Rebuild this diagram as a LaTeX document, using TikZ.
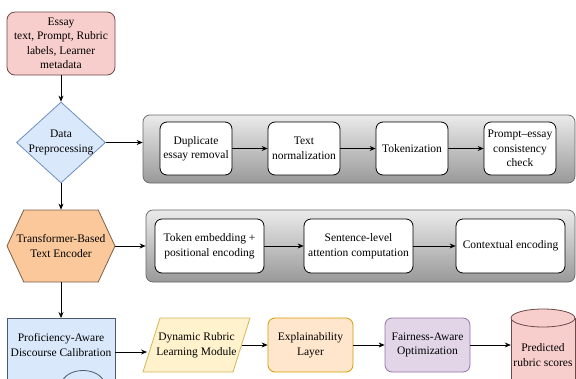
\documentclass[tikz,border=0pt]{standalone}
\usepackage{fontspec}
\setmainfont{Liberation Serif}
\usetikzlibrary{shapes.geometric,shapes.symbols,arrows.meta,calc}
\definecolor{pinkF}{HTML}{F8CECC}
\definecolor{pinkD}{HTML}{6B4A48}
\definecolor{blueF}{HTML}{DAE8FC}
\definecolor{blueD}{HTML}{6C8EBF}
\definecolor{blueD2}{HTML}{4A5A70}
\definecolor{orF}{HTML}{FBC89C}
\definecolor{orD}{HTML}{7A6048}
\definecolor{yelF}{HTML}{FFF2CC}
\definecolor{yelD}{HTML}{D6B656}
\definecolor{peachF}{HTML}{FFE6CC}
\definecolor{peachD}{HTML}{D79B00}
\definecolor{purF}{HTML}{E1D5E7}
\definecolor{purD}{HTML}{9673A6}
\tikzset{
  txt/.style={font=\fontsize{11.5}{14.5}\selectfont, align=center, inner sep=0pt},
  arr/.style={draw=black, line width=0.7pt, -{Stealth[length=6pt,width=5pt]}},
  container/.style={draw=black!60, line width=0.7pt, rounded corners=7pt, top color=black!8, bottom color=black!40},
  stepbox/.style={txt, draw=black, fill=white, line width=0.8pt, rounded corners=7pt},
}
\begin{document}
\begin{tikzpicture}[x=1pt,y=-1pt]
\clip (0,0) rectangle (576,378);
\useasboundingbox (0,0) rectangle (576,378);

% input
\node[txt, draw=pinkD, fill=pinkF, line width=0.8pt, rounded corners=8pt, minimum width=108, minimum height=63] (inp) at (61,43.5)
  {Essay\\text, Prompt, Rubric\\labels, Learner\\metadata};

% diamond
\node[txt, diamond, draw=blueD, fill=blueF, line width=0.8pt, minimum width=89, minimum height=81, inner sep=0pt] (dp) at (61,142.5) {};
\node[txt] (dpt) at (61,142.5) {Data\\Preprocessing};

% preprocessing container
\node[container, minimum width=432, minimum height=68] (pc) at (359,149) {};
\node[stepbox, minimum width=72, minimum height=53] (s1) at (196,148.5) {Duplicate\\essay removal};
\node[stepbox, minimum width=72, minimum height=53] (s2) at (304,148.5) {Text\\normalization};
\node[stepbox, minimum width=72, minimum height=53] (s3) at (412,148.5) {Tokenization};
\node[stepbox, minimum width=72, minimum height=53] (s4) at (520,148.5) {Prompt–essay\\consistency\\check};

% hexagon
\node[txt, signal, signal to=west and east, signal pointer angle=130, draw=orD, fill=orF, line width=0.8pt, minimum width=108, minimum height=72] (enc) at (61,246) {};
\node[txt] (enct) at (61,246) {Transformer-Based\\Text Encoder};

% encoder container
\node[container, minimum width=429, minimum height=72] (ec) at (360.5,246) {};
\node[stepbox, minimum width=109, minimum height=54] (e1) at (209.5,246) {Token embedding +\\positional encoding};
\node[stepbox, minimum width=109, minimum height=54] (e2) at (358.5,246) {Sentence-level\\attention computation};
\node[stepbox, minimum width=109, minimum height=54] (e3) at (510.5,246) {Contextual encoding};

% proficiency (document shape, cut at bottom)
\node[draw=blueD2, fill=blueF, line width=0.8pt, minimum width=108, minimum height=90, anchor=north, inner sep=0pt] (pa) at (61,318) {};
\draw[draw=blueD2, line width=0.8pt, fill=blueF] (61,384) .. controls (66,366) and (100,366) .. (105,384);
\node[txt] (pat) at (61,345) {Proficiency-Aware\\Discourse Calibration};
\coordinate (paout) at (115,352);

% parallelogram
\draw[draw=yelD, fill=yelF, line width=0.8pt] (143,372) -- (160,318) -- (250,318) -- (233,372) -- cycle;
\node[txt, minimum width=107, minimum height=54] (drl) at (196.5,345) {Dynamic Rubric\\Learning Module};

% explainability
\node[txt, draw=peachD, fill=peachF, line width=0.8pt, rounded corners=7pt, minimum width=85, minimum height=54] (ex) at (310.5,345) {Explainability\\Layer};
% fairness
\node[txt, draw=purD, fill=purF, line width=0.8pt, rounded corners=7pt, minimum width=85, minimum height=54] (fa) at (427.5,345) {Fairness-Aware\\Optimization};

% cylinder
\draw[draw=pinkD, fill=pinkF, line width=0.8pt] (511,318) -- (511,400) -- (575,400) -- (575,318);
\draw[draw=pinkD, fill=pinkF, line width=0.8pt] (543,318) ellipse [x radius=32, y radius=9];
\node[txt, minimum width=64, minimum height=50] (cyl) at (543,355) {Predicted\\rubric scores};

% connectors
\draw[arr] (inp.south) -- (dp.north);
\draw[arr] (dp.east) -- (dp.east -| pc.west);
\draw[arr] (s1) -- (s2);
\draw[arr] (s2) -- (s3);
\draw[arr] (s3) -- (s4);
\draw[arr] (dp.south) -- (enc.north);
\draw[arr] (enc.east) -- (ec.west);
\draw[arr] (e1) -- (e2);
\draw[arr] (e2) -- (e3);
\draw[arr] (enc.south) -- (pa.north);
\draw[arr] (paout) -- ++(32,0);
\draw[arr] (drl.east) ++(-8,0) -- (ex.west);
\draw[arr] (ex) -- (fa);
\draw[arr] (fa.east) -- (fa.east -| cyl.west);
\end{tikzpicture}
\end{document}
